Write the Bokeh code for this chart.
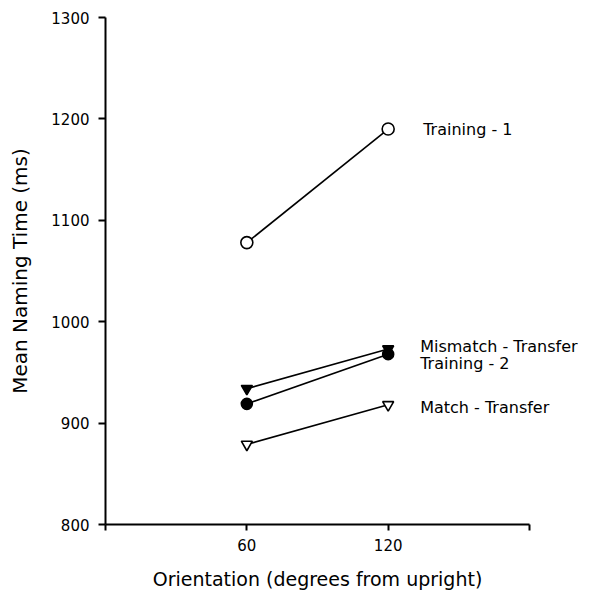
import math
from bokeh.plotting import figure
from bokeh.models import FixedTicker, Range1d, Label
from bokeh.embed import file_html
from bokeh.resources import INLINE

orientations = [60, 120]
training1 = [1078, 1190]
mismatch_transfer = [934, 973]
training2 = [919, 968]
match_transfer = [879, 918]
series_names = ["Training - 1", "Mismatch - Transfer", "Training - 2", "Match - Transfer"]
y_ticks = [800, 900, 1000, 1100, 1200, 1300]
x_ticks = [0, 60, 120, 180]
x_title = "Orientation (degrees from upright)"
y_title = "Mean Naming Time (ms)"

FONT = "DejaVu Sans"

# page geometry (pixels): axes box drawn from (105,17) to (529,524) on a 600x590 canvas
W, H = 600, 590
AX_L, AX_R, AX_T, AX_B = 105, 529, 17, 524
x0, x1 = x_ticks[0], x_ticks[-1]
y0, y1 = y_ticks[0], y_ticks[-1]
sx = (AX_R - AX_L) / (x1 - x0)
sy = (AX_B - AX_T) / (y1 - y0)
x_range = Range1d(x0 - AX_L / sx, x1 + (W - AX_R) / sx)
y_range = Range1d(y0 - (H - AX_B) / sy, y1 + AX_T / sy)

p = figure(width=W, height=H, output_backend="svg", toolbar_location=None,
           x_range=x_range, y_range=y_range, min_border=0)
p.grid.visible = False
p.outline_line_color = None
p.background_fill_color = "white"
p.border_fill_color = "white"

styles = [
    dict(data=training1, marker="circle", fill="white", size=12, dx=35, dy=0),
    dict(data=mismatch_transfer, marker="inverted_triangle", fill="black", size=11, dx=32, dy=3),
    dict(data=training2, marker="circle", fill="black", size=11, dx=32, dy=-9),
    dict(data=match_transfer, marker="inverted_triangle", fill="white", size=11, dx=32, dy=-3),
]

for name, st in zip(series_names, styles):
    p.line(orientations, st["data"], line_color="black", line_width=1.6)
    p.scatter(orientations, st["data"], marker=st["marker"], size=st["size"],
              fill_color=st["fill"], line_color="black", line_width=1.6)
    p.add_layout(Label(x=orientations[-1], y=st["data"][-1], text=name,
                       x_offset=st["dx"], y_offset=st["dy"], text_baseline="middle",
                       text_align="left", text_font=FONT, text_font_size="16px",
                       text_color="black"))

for ax in (p.xaxis[0], p.yaxis[0]):
    ax.axis_line_width = 2
    ax.axis_line_color = "black"
    ax.major_tick_line_width = 2
    ax.major_tick_line_color = "black"
    ax.minor_tick_line_color = None
    ax.major_tick_in = 0
    ax.major_label_text_font = FONT
    ax.major_label_text_font_size = "15px"
    ax.major_label_text_color = "black"

p.xaxis.fixed_location = y0
p.xaxis.bounds = (x0, x1)
p.xaxis.ticker = FixedTicker(ticks=x_ticks)
p.xaxis.major_label_overrides = {0: "", 180: ""}
p.xaxis.major_tick_out = 6
p.xaxis.major_label_standoff = 8

p.yaxis.fixed_location = x0
p.yaxis.bounds = (y0, y1)
p.yaxis.ticker = FixedTicker(ticks=y_ticks)
p.yaxis.major_tick_out = 7
p.yaxis.major_label_standoff = 9

p.add_layout(Label(x=(x0 + x1) / 2, y=y0, y_offset=-54, text=x_title,
                   text_align="center", text_baseline="middle",
                   text_font=FONT, text_font_size="19px", text_color="black"))
p.add_layout(Label(x=x0, y=(y0 + y1) / 2, x_offset=-86, angle=math.pi / 2, text=y_title,
                   text_align="center", text_baseline="middle",
                   text_font=FONT, text_font_size="20px", text_color="black"))

open("out.html", "w").write(file_html(p, INLINE))
